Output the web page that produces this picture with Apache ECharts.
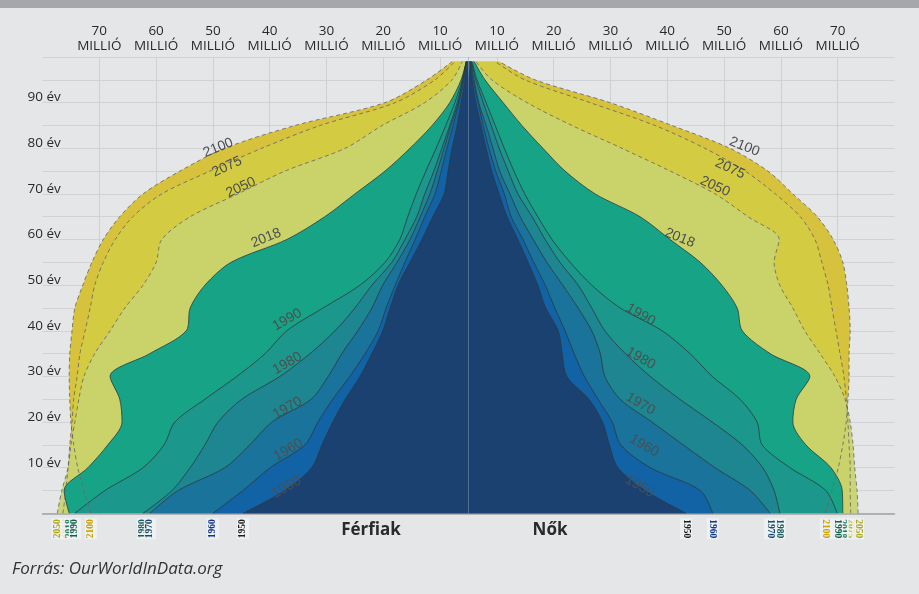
<!DOCTYPE html>
<html>
<head>
<meta charset="utf-8">
<script src="https://cdn.jsdelivr.net/npm/echarts@6/dist/echarts.min.js"></script>
<style>
  html, body { margin: 0; padding: 0; background: #e5e6e8; }
  #chart { width: 919px; height: 594px; }
</style>
</head>
<body>
<div id="chart"></div>
<script>
// age rows of the pyramid (the top row is where the chart is cut off)
const sampleAges = [0, 5, 10, 15, 20, 25, 30, 35, 40, 45, 50, 55, 60, 65, 70, 75, 80, 85, 90, 95, 99]
const ageTicks = [10, 20, 30, 40, 50, 60, 70, 80, 90]
const millionTicks = [70, 60, 50, 40, 30, 20, 10, 10, 20, 30, 40, 50, 60, 70]

// millions of people of a given age (one year of age)
const men2100 = [66.5, 67.7, 68.8, 69.5, 70.0, 70.2, 70.3, 70.2, 69.8, 69.3, 67.9, 66.3, 64.3, 61.4, 57.3, 50.8, 42.9, 30.5, 14.7, 7.3, 2.9]
const women2100 = [62.9, 64.0, 65.1, 65.9, 66.5, 66.8, 67.0, 67.0, 67.2, 67.0, 66.6, 65.9, 64.2, 61.4, 57.1, 52.7, 46.0, 35.8, 24.9, 11.7, 5.4]
const men2075 = [71.4, 70.9, 70.5, 70.2, 69.8, 69.5, 68.9, 68.4, 67.5, 66.6, 65.8, 64.3, 62.2, 59.1, 54.0, 45.5, 36.4, 26.1, 12.9, 5.9, 2.4]
const women2075 = [67.3, 67.2, 67.2, 67.0, 66.8, 66.5, 66.1, 65.4, 64.7, 64.0, 63.3, 62.2, 61.0, 58.4, 54.0, 48.7, 41.6, 32.8, 21.4, 9.9, 4.7]
const men2050 = [72.4, 71.6, 70.5, 70.0, 69.3, 68.6, 67.7, 65.8, 63.1, 60.5, 57.3, 55.0, 54.0, 49.0, 40.6, 32.3, 21.7, 15.2, 7.7, 2.9, 1.1]
const women2050 = [68.6, 68.4, 68.0, 67.7, 67.2, 66.3, 64.5, 61.9, 59.2, 57.1, 54.8, 53.8, 54.7, 49.2, 43.4, 35.5, 27.0, 18.2, 10.3, 4.1, 1.3]
const men2018 = [70.3, 71.2, 67.0, 63.5, 61.0, 61.4, 63.1, 56.1, 49.7, 49.0, 46.4, 41.8, 32.0, 25.3, 20.0, 14.7, 10.3, 6.4, 3.3, 1.3, 0.4]
const women2018 = [65.9, 65.8, 63.8, 59.4, 57.1, 57.7, 60.1, 53.1, 48.2, 47.3, 44.6, 40.8, 35.5, 30.2, 22.3, 17.0, 13.1, 9.4, 6.1, 2.9, 1.0]
const men1990 = [69.3, 64.0, 57.3, 53.6, 51.7, 46.4, 40.8, 35.8, 32.0, 25.6, 19.1, 14.7, 12.1, 10.7, 9.2, 7.5, 5.7, 4.0, 2.4, 1.1, 0.4]
const women1990 = [64.9, 62.9, 56.6, 51.7, 50.8, 47.8, 42.9, 39.0, 34.1, 26.7, 21.7, 17.9, 14.7, 12.2, 9.9, 8.0, 6.3, 4.7, 3.1, 1.5, 0.6]
const men1980 = [57.3, 52.2, 49.0, 46.4, 44.1, 39.9, 33.2, 27.9, 23.5, 20.0, 17.0, 13.5, 11.2, 9.1, 7.7, 6.1, 4.7, 3.3, 2.0, 1.0, 0.4]
const women1980 = [54.8, 53.8, 51.8, 48.2, 42.9, 37.2, 32.0, 27.6, 24.0, 21.7, 19.3, 16.1, 13.5, 11.2, 8.7, 7.0, 5.4, 4.0, 2.6, 1.3, 0.5]
const men1970 = [56.1, 51.1, 42.9, 38.5, 34.6, 27.7, 24.7, 22.3, 19.5, 17.0, 15.1, 12.6, 10.3, 8.5, 6.8, 5.5, 4.3, 3.1, 1.8, 1.0, 0.4]
const women1970 = [53.1, 49.6, 43.4, 37.8, 32.3, 26.7, 24.0, 23.2, 21.7, 19.3, 16.6, 13.8, 11.4, 9.1, 7.3, 5.5, 4.3, 3.1, 1.8, 1.0, 0.4]
const men1960 = [45.0, 39.7, 34.9, 28.8, 26.5, 23.9, 20.9, 18.2, 15.9, 14.5, 12.9, 11.2, 9.4, 7.7, 5.9, 4.8, 3.8, 2.7, 1.7, 0.8, 0.3]
const women1960 = [43.0, 40.8, 32.0, 26.8, 25.3, 22.8, 20.4, 18.6, 17.0, 15.2, 13.5, 11.5, 9.6, 7.5, 6.3, 4.8, 3.6, 2.6, 1.7, 0.8, 0.3]
const men1950 = [39.7, 32.3, 27.6, 25.8, 23.9, 21.7, 19.1, 17.0, 15.1, 13.8, 12.4, 10.3, 8.2, 6.3, 4.3, 3.6, 2.9, 2.0, 1.3, 0.6, 0.2]
const women1950 = [38.3, 31.1, 26.3, 24.8, 23.6, 21.2, 17.3, 16.5, 15.8, 13.6, 12.2, 10.5, 8.7, 6.8, 5.4, 4.1, 3.1, 2.2, 1.3, 0.6, 0.3]

// drawing order: widest future years at the back, 1950 on top
const years = [
  { name: '2100', men: men2100, women: women2100, area: '#d5bf2e', tag: '#c9a200', future: true, labelAge: 80, rot: 22 },
  { name: '2075', men: men2075, women: women2075, area: '#d3cd42', tag: '#c0b10c', future: true, labelAge: 75, rot: 25 },
  { name: '2050', men: men2050, women: women2050, area: '#c9d36e', tag: '#aca916', future: true, labelAge: 70, rot: 25 },
  { name: '2018', men: men2018, women: women2018, area: '#17a386', tag: '#1b7c5e', labelAge: 60, rot: 22 },
  { name: '1990', men: men1990, women: women1990, area: '#1b978b', tag: '#17604f', labelAge: 40, rot: 30 },
  { name: '1980', men: men1980, women: women1980, area: '#1d8690', tag: '#165a5e', labelAge: 30, rot: 30 },
  { name: '1970', men: men1970, women: women1970, area: '#19739a', tag: '#154a72', labelAge: 20, rot: 30 },
  { name: '1960', men: men1960, women: women1960, area: '#1262a6', tag: '#10368f', labelAge: 15, rot: 30 },
  { name: '1950', men: men1950, women: women1950, area: '#1b4171', tag: '#1e1e1e', labelAge: 5, rot: 30 }
]

// on-screen nudges of the curve labels, pixels: [men side, women side]
const labelNudge = {
  '2100': [[-4, 8], [12, 7]],
  '2075': [[20, 4], [-18, 6]],
  '2050': [[6, 2], [-3, 1]],
  '2018': [[-18, 7], [7, 7]],
  '1990': [[4, -3], [-25, -8]],
  '1980': [[11, -5], [-13, -10]],
  '1970': [[19, -6], [-15, -10]],
  '1960': [[-13, 13], [20, 9]],
  '1950': [[5, 5], [-9, 4]]
}

const ageCategories = []
for (let a = 0; a <= 100; a++) ageCategories.push(String(a))

function tagLabel(y, side) {
  return {
    show: true,
    position: 'bottom',
    distance: 5,
    rotate: side < 0 ? 90 : -90,
    align: side < 0 ? 'right' : 'left',
    verticalAlign: 'middle',
    formatter: y.name,
    color: y.tag,
    fontFamily: 'Liberation Sans Narrow',
    fontWeight: 'bold',
    fontSize: 9.5,
    backgroundColor: 'rgba(240,242,242,0.85)',
    padding: [1, 1]
  }
}

function curveLabel(y, side) {
  const rot = side < 0 ? y.rot : -y.rot
  // the label offset turns with the text, so turn the wanted nudge back
  const [dx, dy] = labelNudge[y.name][side < 0 ? 0 : 1]
  const t = rot * Math.PI / 180
  return {
    show: true,
    position: 'top',
    distance: 2,
    offset: [dx * Math.cos(t) - dy * Math.sin(t), dx * Math.sin(t) + dy * Math.cos(t)],
    rotate: rot,
    formatter: y.name,
    color: '#4b4f52',
    fontFamily: 'Liberation Sans',
    fontSize: 14
  }
}

function sideData(y, values, side, withLabels) {
  return values.map((v, i) => {
    const item = { value: [side * v, sampleAges[i]] }
    if (withLabels) {
      if (i === 0) item.label = tagLabel(y, side)
      else if (sampleAges[i] === y.labelAge) item.label = curveLabel(y, side)
    }
    return item
  })
}

const series = []
years.forEach(y => {
  ;[-1, 1].forEach(side => {
    series.push({
      type: 'line',
      name: y.name + (side < 0 ? ' férfiak' : ' nők'),
      data: sideData(y, side < 0 ? y.men : y.women, side, false),
      smooth: 0.3,
      showSymbol: false,
      silent: true,
      lineStyle: y.future
        ? { opacity: 0 }
        : { color: 'rgba(45,58,62,0.8)', width: 1 },
      areaStyle: { color: y.area, opacity: y.future ? 0.92 : 1 }
    })
  })
})
// on top: dashed outlines of the projected years, and all the year labels
years.forEach(y => {
  ;[-1, 1].forEach(side => {
    series.push({
      type: 'line',
      name: y.name + ' felirat',
      data: sideData(y, side < 0 ? y.men : y.women, side, true),
      smooth: 0.3,
      symbol: 'circle',
      symbolSize: 0,
      showAllSymbol: true,
      silent: true,
      lineStyle: y.future
        ? { color: 'rgba(105,105,105,0.85)', width: 1, type: [4, 3] }
        : { opacity: 0 }
    })
  })
})
// centre line
series[series.length - 1].markLine = {
  silent: true,
  symbol: 'none',
  label: { show: false },
  lineStyle: { color: 'rgba(140,150,170,0.5)', width: 1, type: 'solid' },
  data: [{ xAxis: 0 }]
}

const chart = echarts.init(document.getElementById('chart'))
chart.setOption({
  animation: false,
  backgroundColor: '#e5e6e8',
  grid: { left: 42.5, right: 24.5, top: 57, bottom: 80.7 },
  xAxis: [
    {
      type: 'value',
      min: -75,
      max: 75,
      position: 'bottom',
      axisLine: { show: true, lineStyle: { color: '#a2a3a7', width: 1.5 } },
      axisTick: { show: false },
      axisLabel: { show: false },
      splitLine: { show: false }
    },
    {
      // the printed million marks sit half a step away from the centre
      type: 'value',
      min: -70,
      max: 80,
      interval: 10,
      position: 'top',
      axisLine: { show: false },
      axisTick: { show: false },
      axisLabel: {
        showMinLabel: false,
        showMaxLabel: false,
        margin: 3,
        color: '#2a2a2a',
        fontFamily: 'Open Sans',
        fontSize: 13.5,
        lineHeight: 15,
        formatter: (v, i) => (millionTicks[i - 1] !== undefined ? millionTicks[i - 1] + '\nMILLIÓ' : '')
      },
      splitLine: {
        show: true,
        showMinLine: false,
        showMaxLine: false,
        lineStyle: { color: '#cfd0d3', width: 1 }
      }
    }
  ],
  yAxis: {
    type: 'category',
    data: ageCategories,
    boundaryGap: false,
    axisLine: { show: false },
    axisTick: { show: false },
    axisLabel: {
      interval: 9,
      margin: 15,
      align: 'left',
      verticalAlign: 'bottom',
      lineHeight: 10,
      color: '#2a2a2a',
      fontFamily: 'Open Sans',
      fontSize: 13.5,
      formatter: v => (ageTicks.indexOf(Number(v)) >= 0 ? v + ' év' : '')
    },
    splitLine: { show: true, interval: 4, lineStyle: { color: '#d1d2d5', width: 1 } }
  },
  graphic: [
    { type: 'rect', shape: { x: 0, y: 0, width: 919, height: 8 }, style: { fill: '#a6a7ab' } },
    {
      type: 'text', x: 371, y: 530,
      style: { text: 'Férfiak', font: 'bold 17px "Open Sans"', fill: '#2a2a2a', align: 'center', verticalAlign: 'middle' }
    },
    {
      type: 'text', x: 550, y: 530,
      style: { text: 'Nők', font: 'bold 17px "Open Sans"', fill: '#2a2a2a', align: 'center', verticalAlign: 'middle' }
    },
    {
      type: 'text', x: 12, y: 569,
      style: { text: 'Forrás: OurWorldInData.org', font: 'italic 17px "Open Sans"', fill: '#333', align: 'left', verticalAlign: 'middle' }
    }
  ],
  series: series
})
</script>
</body>
</html>
